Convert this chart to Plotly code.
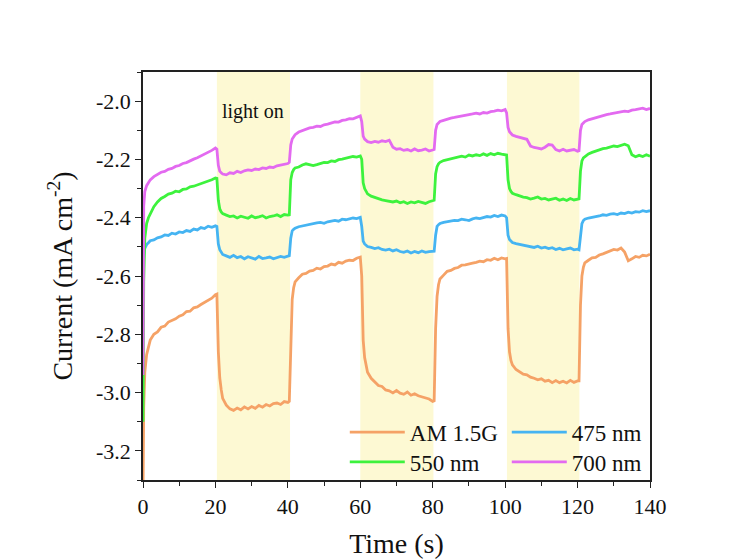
import plotly.graph_objects as go

# ---------------- data ----------------
TIME = [0, 0.2, 0.5, 1, 1.5, 2, 3, 4, 5, 6, 7, 8, 9, 10, 11, 12, 13, 14, 15, 16, 17, 18, 19, 20,
        20.4, 20.8, 21.2, 21.6, 22, 23, 24, 25, 26, 27, 28, 29, 30, 31, 32, 33, 34, 35, 36, 37, 38, 39, 40,
        40.4, 40.8, 41.2, 41.6, 42, 43, 44, 45, 46, 47, 48, 49, 50, 51, 52, 53, 54, 55, 56, 57, 58, 59, 60,
        60.4, 60.8, 61.2, 61.6, 62, 63, 64, 65, 66, 67, 68, 69, 70, 71, 72, 73, 74, 75, 76, 77, 78, 79, 80,
        80.4, 80.8, 81.2, 81.6, 82, 83, 84, 85, 86, 87, 88, 89, 90, 91, 92, 93, 94, 95, 96, 97, 98, 99, 100,
        100.4, 100.8, 101.2, 101.6, 102, 103, 104, 105, 106, 107, 108, 109, 110, 111, 112, 113, 114, 115, 116, 117, 118, 119, 120,
        120.4, 120.8, 121.2, 121.6, 122, 123, 124, 125, 126, 127, 128, 129, 130, 131, 132, 133, 134, 135, 136, 137, 138, 139, 140]

AM15G = [-3.35, -3.05, -2.93, -2.87, -2.845, -2.82, -2.80, -2.792, -2.776, -2.772, -2.758, -2.752, -2.747, -2.738, -2.733, -2.722, -2.721, -2.709, -2.706, -2.698, -2.69, -2.684, -2.676, -2.664,
         -2.662, -2.86, -2.95, -2.99, -3.02, -3.043, -3.056, -3.061, -3.053, -3.059, -3.049, -3.056, -3.048, -3.054, -3.044, -3.05, -3.041, -3.046, -3.038, -3.036, -3.041, -3.031, -3.034,
         -3.03, -2.80, -2.68, -2.64, -2.62, -2.606, -2.594, -2.591, -2.583, -2.581, -2.573, -2.576, -2.568, -2.566, -2.559, -2.562, -2.553, -2.556, -2.549, -2.546, -2.547, -2.539, -2.535,
         -2.60, -2.82, -2.88, -2.91, -2.93, -2.951, -2.963, -2.976, -2.979, -2.991, -2.994, -3.001, -2.993, -3.002, -3.006, -2.998, -3.009, -3.004, -3.011, -3.015, -3.019, -3.022, -3.03,
         -3.028, -2.78, -2.67, -2.63, -2.61, -2.597, -2.584, -2.581, -2.574, -2.571, -2.563, -2.562, -2.558, -2.556, -2.553, -2.549, -2.551, -2.544, -2.546, -2.539, -2.544, -2.538, -2.541,
         -2.54, -2.78, -2.86, -2.89, -2.905, -2.921, -2.929, -2.937, -2.939, -2.947, -2.951, -2.956, -2.953, -2.961, -2.958, -2.966, -2.959, -2.966, -2.961, -2.967, -2.958, -2.965, -2.96,
         -2.96, -2.70, -2.60, -2.57, -2.555, -2.546, -2.538, -2.536, -2.528, -2.524, -2.519, -2.514, -2.509, -2.511, -2.504, -2.518, -2.548, -2.541, -2.533, -2.536, -2.529, -2.531, -2.525]

NM475 = [-2.62, -2.53, -2.505, -2.492, -2.486, -2.479, -2.476, -2.469, -2.466, -2.459, -2.461, -2.453, -2.456, -2.449, -2.451, -2.444, -2.447, -2.439, -2.442, -2.434, -2.437, -2.429, -2.433, -2.428,
         -2.43, -2.49, -2.51, -2.52, -2.526, -2.531, -2.536, -2.529, -2.537, -2.533, -2.541, -2.534, -2.538, -2.542, -2.533, -2.54, -2.538, -2.535, -2.541, -2.537, -2.533, -2.536, -2.531,
         -2.53, -2.47, -2.445, -2.44, -2.436, -2.431, -2.428, -2.426, -2.423, -2.421, -2.418, -2.416, -2.419, -2.414, -2.411, -2.409, -2.412, -2.405, -2.407, -2.404, -2.401, -2.403, -2.399,
         -2.43, -2.48, -2.49, -2.495, -2.499, -2.502, -2.506, -2.503, -2.509, -2.511, -2.508, -2.514, -2.51, -2.516, -2.519, -2.514, -2.521, -2.516, -2.52, -2.514, -2.519, -2.516, -2.514,
         -2.515, -2.46, -2.43, -2.424, -2.42, -2.416, -2.413, -2.411, -2.409, -2.41, -2.405, -2.407, -2.41, -2.404, -2.401, -2.403, -2.399, -2.396, -2.398, -2.392, -2.396, -2.391, -2.394,
         -2.40, -2.46, -2.475, -2.48, -2.485, -2.489, -2.492, -2.494, -2.497, -2.499, -2.502, -2.498, -2.504, -2.501, -2.506, -2.503, -2.509, -2.505, -2.51, -2.507, -2.504, -2.51, -2.508,
         -2.51, -2.45, -2.42, -2.41, -2.405, -2.401, -2.399, -2.396, -2.394, -2.39, -2.392, -2.388, -2.386, -2.389, -2.384, -2.386, -2.381, -2.384, -2.379, -2.381, -2.376, -2.379, -2.376]

NM550 = [-3.10, -2.62, -2.47, -2.42, -2.40, -2.386, -2.362, -2.346, -2.334, -2.327, -2.319, -2.316, -2.309, -2.311, -2.303, -2.301, -2.294, -2.292, -2.288, -2.284, -2.279, -2.276, -2.27, -2.264,
         -2.265, -2.34, -2.37, -2.38, -2.386, -2.391, -2.396, -2.394, -2.401, -2.395, -2.399, -2.402, -2.394, -2.4, -2.397, -2.393, -2.401, -2.396, -2.394, -2.39, -2.396, -2.389, -2.391,
         -2.39, -2.27, -2.245, -2.235, -2.229, -2.226, -2.219, -2.215, -2.217, -2.221, -2.218, -2.214, -2.21, -2.211, -2.205, -2.207, -2.201, -2.199, -2.196, -2.194, -2.19, -2.192, -2.188,
         -2.20, -2.28, -2.30, -2.31, -2.318, -2.326, -2.331, -2.334, -2.339, -2.341, -2.344, -2.346, -2.343, -2.349, -2.345, -2.351, -2.346, -2.349, -2.344, -2.347, -2.351, -2.345, -2.34,
         -2.34, -2.25, -2.225, -2.215, -2.21, -2.204, -2.201, -2.198, -2.194, -2.191, -2.189, -2.192, -2.185, -2.188, -2.184, -2.187, -2.181, -2.186, -2.18, -2.184, -2.179, -2.182, -2.185,
         -2.185, -2.27, -2.30, -2.31, -2.316, -2.321, -2.326, -2.329, -2.331, -2.336, -2.333, -2.329, -2.336, -2.334, -2.339, -2.335, -2.333, -2.34, -2.336, -2.341, -2.334, -2.339, -2.336,
         -2.335, -2.24, -2.205, -2.195, -2.19, -2.181, -2.176, -2.171, -2.166, -2.163, -2.161, -2.158, -2.154, -2.156, -2.151, -2.148, -2.153, -2.184, -2.191, -2.186, -2.19, -2.184, -2.189]

NM700 = [-2.94, -2.36, -2.31, -2.29, -2.28, -2.27, -2.259, -2.251, -2.244, -2.241, -2.234, -2.231, -2.224, -2.221, -2.214, -2.211, -2.204, -2.199, -2.194, -2.188, -2.181, -2.176, -2.169, -2.161,
         -2.165, -2.22, -2.24, -2.246, -2.25, -2.253, -2.246, -2.248, -2.241, -2.245, -2.239, -2.236, -2.238, -2.233, -2.235, -2.229, -2.231, -2.226, -2.228, -2.222, -2.219, -2.216, -2.214,
         -2.21, -2.15, -2.13, -2.12, -2.115, -2.106, -2.101, -2.096, -2.092, -2.09, -2.086, -2.087, -2.081, -2.079, -2.076, -2.071, -2.072, -2.066, -2.064, -2.06, -2.061, -2.055, -2.051,
         -2.07, -2.12, -2.13, -2.135, -2.139, -2.142, -2.138, -2.141, -2.136, -2.139, -2.134, -2.158, -2.165, -2.163, -2.169, -2.166, -2.171, -2.164, -2.17, -2.168, -2.164, -2.171, -2.166,
         -2.166, -2.10, -2.08, -2.075, -2.07, -2.066, -2.061, -2.058, -2.056, -2.053, -2.051, -2.049, -2.046, -2.044, -2.041, -2.044, -2.039, -2.041, -2.036, -2.034, -2.031, -2.033, -2.029,
         -2.04, -2.09, -2.105, -2.11, -2.116, -2.121, -2.124, -2.127, -2.131, -2.154, -2.159, -2.161, -2.164, -2.158, -2.149, -2.151, -2.166, -2.171, -2.165, -2.171, -2.168, -2.166, -2.172,
         -2.17, -2.10, -2.08, -2.075, -2.07, -2.064, -2.06, -2.056, -2.054, -2.049, -2.046, -2.044, -2.041, -2.039, -2.036, -2.034, -2.036, -2.031, -2.029, -2.026, -2.024, -2.029, -2.025]

SERIES_NAMES = ["AM 1.5G", "475 nm", "550 nm", "700 nm"]
SERIES_COLORS = ["#F5A266", "#45B4F2", "#3DF23D", "#E36AF0"]
SERIES_LEGEND = ["legend", "legend", "legend2", "legend2"]

LIGHT_START = [20.4, 60.0, 100.5]
LIGHT_END = [40.6, 80.2, 120.5]

X_TICKS = [0, 20, 40, 60, 80, 100, 120, 140]
X_MINOR = [10, 30, 50, 70, 90, 110, 130]
Y_TICKS = [-3.2, -3.0, -2.8, -2.6, -2.4, -2.2, -2.0]
Y_TICK_TEXT = ["-3.2", "-3.0", "-2.8", "-2.6", "-2.4", "-2.2", "-2.0"]
Y_MINOR = [-3.3, -3.1, -2.9, -2.7, -2.5, -2.3, -2.1, -1.9]

for arr in (AM15G, NM475, NM550, NM700):
    assert len(arr) == len(TIME), (len(arr), len(TIME))

# ---------------- figure ----------------
FONT = "Liberation Serif, Times New Roman, serif"
fig = go.Figure()

for ys, name, col, lg in zip((AM15G, NM475, NM550, NM700), SERIES_NAMES, SERIES_COLORS, SERIES_LEGEND):
    fig.add_trace(go.Scatter(x=TIME, y=ys, mode="lines", name=name, legend=lg,
                             line=dict(color=col, width=2.8)))

for x0, x1 in zip(LIGHT_START, LIGHT_END):
    fig.add_shape(type="rect", xref="x", yref="paper", x0=x0, x1=x1, y0=0, y1=1,
                  fillcolor="#FDF9D3", line_width=0, layer="below")

fig.add_annotation(x=30.5, y=-2.035, xref="x", yref="y", text="light on", showarrow=False,
                   font=dict(family=FONT, size=20, color="#111111"))

axis_common = dict(showline=True, linecolor="#222222", linewidth=1.6, mirror=True,
                   ticks="outside", ticklen=6, tickwidth=1.4, tickcolor="#222222",
                   showgrid=False, zeroline=False, automargin=False,
                   tickfont=dict(family=FONT, size=22, color="#111111"))

fig.update_xaxes(range=[0, 140], tickmode="array", tickvals=X_TICKS,
                 minor=dict(tickmode="array", tickvals=X_MINOR, ticks="outside", ticklen=4,
                            tickwidth=1.4, tickcolor="#222222"),
                 title=dict(text="Time (s)", font=dict(family=FONT, size=28, color="#111111")),
                 **axis_common)
fig.update_yaxes(range=[-3.3, -1.9], tickmode="array", tickvals=Y_TICKS, ticktext=Y_TICK_TEXT,
                 minor=dict(tickmode="array", tickvals=Y_MINOR, ticks="outside", ticklen=4,
                            tickwidth=1.4, tickcolor="#222222"),
                 title=dict(text="Current (mA cm<sup>-2</sup>)",
                            font=dict(family=FONT, size=28, color="#111111")),
                 **axis_common)

legend_common = dict(orientation="h", xanchor="left", yanchor="top", bgcolor="rgba(0,0,0,0)",
                     font=dict(family=FONT, size=23, color="#111111"),
                     entrywidthmode="pixels", entrywidth=92, itemwidth=55,
                     traceorder="normal", tracegroupgap=0)
fig.update_layout(
    width=743, height=559,
    margin=dict(l=135, r=101, t=64, b=87),
    paper_bgcolor="white", plot_bgcolor="white",
    font=dict(family=FONT, color="#111111"),
    legend=dict(x=0.398, y=0.17, **legend_common),
    legend2=dict(x=0.398, y=0.097, **legend_common),
)

fig.write_html("out.html")
